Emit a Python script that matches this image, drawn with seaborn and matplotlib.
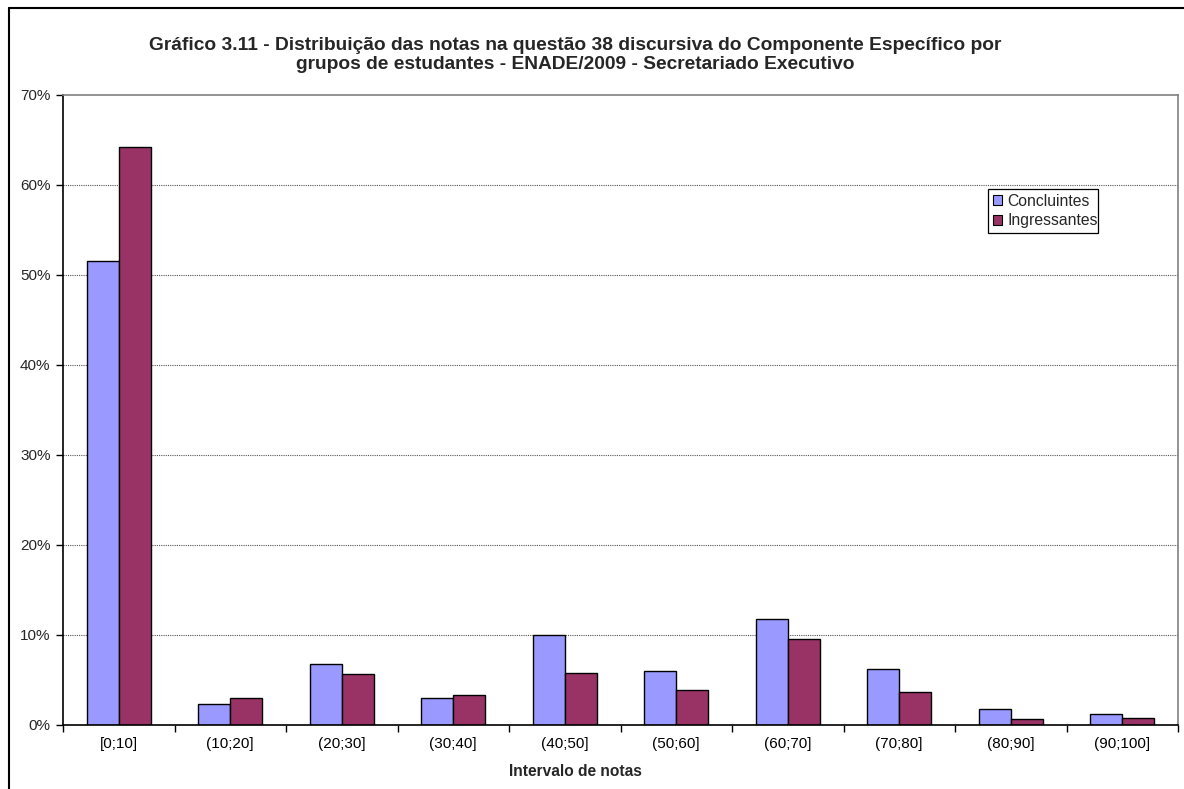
import matplotlib
matplotlib.use("Agg")
import matplotlib.pyplot as plt
import matplotlib.ticker as mticker
from matplotlib.lines import Line2D
from matplotlib.patches import Patch, Rectangle
import pandas as pd
import seaborn as sns

# Score intervals and share of students (%) in each group
intervals = ["[0;10]", "(10;20]", "(20;30]", "(30;40]", "(40;50]",
             "(50;60]", "(60;70]", "(70;80]", "(80;90]", "(90;100]"]
concluintes = [51.5, 2.3, 6.7, 2.9, 9.9, 5.9, 11.7, 6.2, 1.7, 1.2]
ingressantes = [64.2, 2.9, 5.6, 3.3, 5.7, 3.8, 9.5, 3.6, 0.6, 0.7]
groups = ["Concluintes", "Ingressantes"]
colors = ["#9999FF", "#993366"]

df = pd.DataFrame({
    "Intervalo": intervals * 2,
    "Grupo": [groups[0]] * len(intervals) + [groups[1]] * len(intervals),
    "Percentual": concluintes + ingressantes,
})

sns.set_theme(style="white")
plt.rcParams["font.family"] = ["Liberation Sans", "DejaVu Sans"]

W, H = 1184, 789
L, R, T, B = 63, 1178, 94.5, 724.5
fig = plt.figure(figsize=(W / 100, H / 100), dpi=100)
ax = fig.add_axes([L / W, 1 - B / H, (R - L) / W, (B - T) / H])

sns.barplot(data=df, x="Intervalo", y="Percentual", hue="Grupo",
            order=intervals, hue_order=groups, palette=colors,
            width=0.57, edgecolor="black", linewidth=1.0,
            saturation=1, errorbar=None, legend=False, ax=ax)

ax.set_ylim(0, 70)
ax.set_xlim(-0.5, len(intervals) - 0.5)
ax.yaxis.set_major_locator(mticker.MultipleLocator(10))
ax.yaxis.set_major_formatter(mticker.FormatStrFormatter("%d%%"))

# Dotted horizontal gridlines
for yv in range(10, 70, 10):
    ax.axhline(yv, color="#555555", linewidth=0.8, linestyle=(0, (1, 1)), zorder=0)

# Axis spines: black left/bottom, grey frame top/right
for side in ("left", "bottom"):
    ax.spines[side].set_color("black")
    ax.spines[side].set_linewidth(1.2)
for side in ("top", "right"):
    ax.spines[side].set_color("#808080")
    ax.spines[side].set_linewidth(1.2)

# Ticks on the category boundaries along x
ax.set_xticks([i + 0.5 for i in range(-1, len(intervals))], minor=True)
ax.set_xticks(range(len(intervals)))
ax.set_xticklabels(intervals)
ax.tick_params(axis="x", which="major", length=0, pad=9, labelsize=11, colors="black")
ax.tick_params(axis="x", which="minor", length=5, width=1, color="black", direction="out", bottom=True)
ax.tick_params(axis="y", length=5, width=1, color="black", direction="out", pad=4,
               labelsize=11, left=True)

ax.set_ylabel("")
ax.set_xlabel("")
fig.text(575 / W, 1 - 771 / H, "Intervalo de notas", ha="center", va="center",
         fontsize=11.2, fontweight="bold")

# Legend (entries drawn by matplotlib, box drawn separately)
handles = [Patch(facecolor=c, edgecolor="black", linewidth=0.8) for c in colors]
leg = ax.legend(handles, groups, loc="upper left",
                bbox_to_anchor=((988 - L) / (R - L), (B - 189) / (B - T)),
                frameon=False, fontsize=11.3,
                handlelength=0.62, handleheight=0.62, handletextpad=0.3,
                borderpad=0.3, labelspacing=0.3, borderaxespad=0)
fig.add_artist(Rectangle((988 / W, 1 - 233 / H), (1098 - 988) / W, (233 - 189) / H,
                         transform=fig.transFigure, fill=False,
                         edgecolor="black", linewidth=0.9, zorder=5))

# Title
fig.text(575 / W, 1 - 45 / H,
         "Gráfico 3.11 - Distribuição das notas na questão 38 discursiva do Componente Específico por",
         ha="center", va="center", fontsize=13.8, fontweight="bold")
fig.text(575 / W, 1 - 64.5 / H,
         "grupos de estudantes - ENADE/2009 - Secretariado Executivo",
         ha="center", va="center", fontsize=13.8, fontweight="bold")

# Chart-area border (left and top edges)
fig.add_artist(Line2D([9 / W, 9 / W], [0, 1 - 8 / H], transform=fig.transFigure,
                      color="black", linewidth=1.5))
fig.add_artist(Line2D([9 / W, 1], [1 - 8 / H, 1 - 8 / H], transform=fig.transFigure,
                      color="black", linewidth=1.5))

fig.savefig("out.png", dpi=100, facecolor="white")
